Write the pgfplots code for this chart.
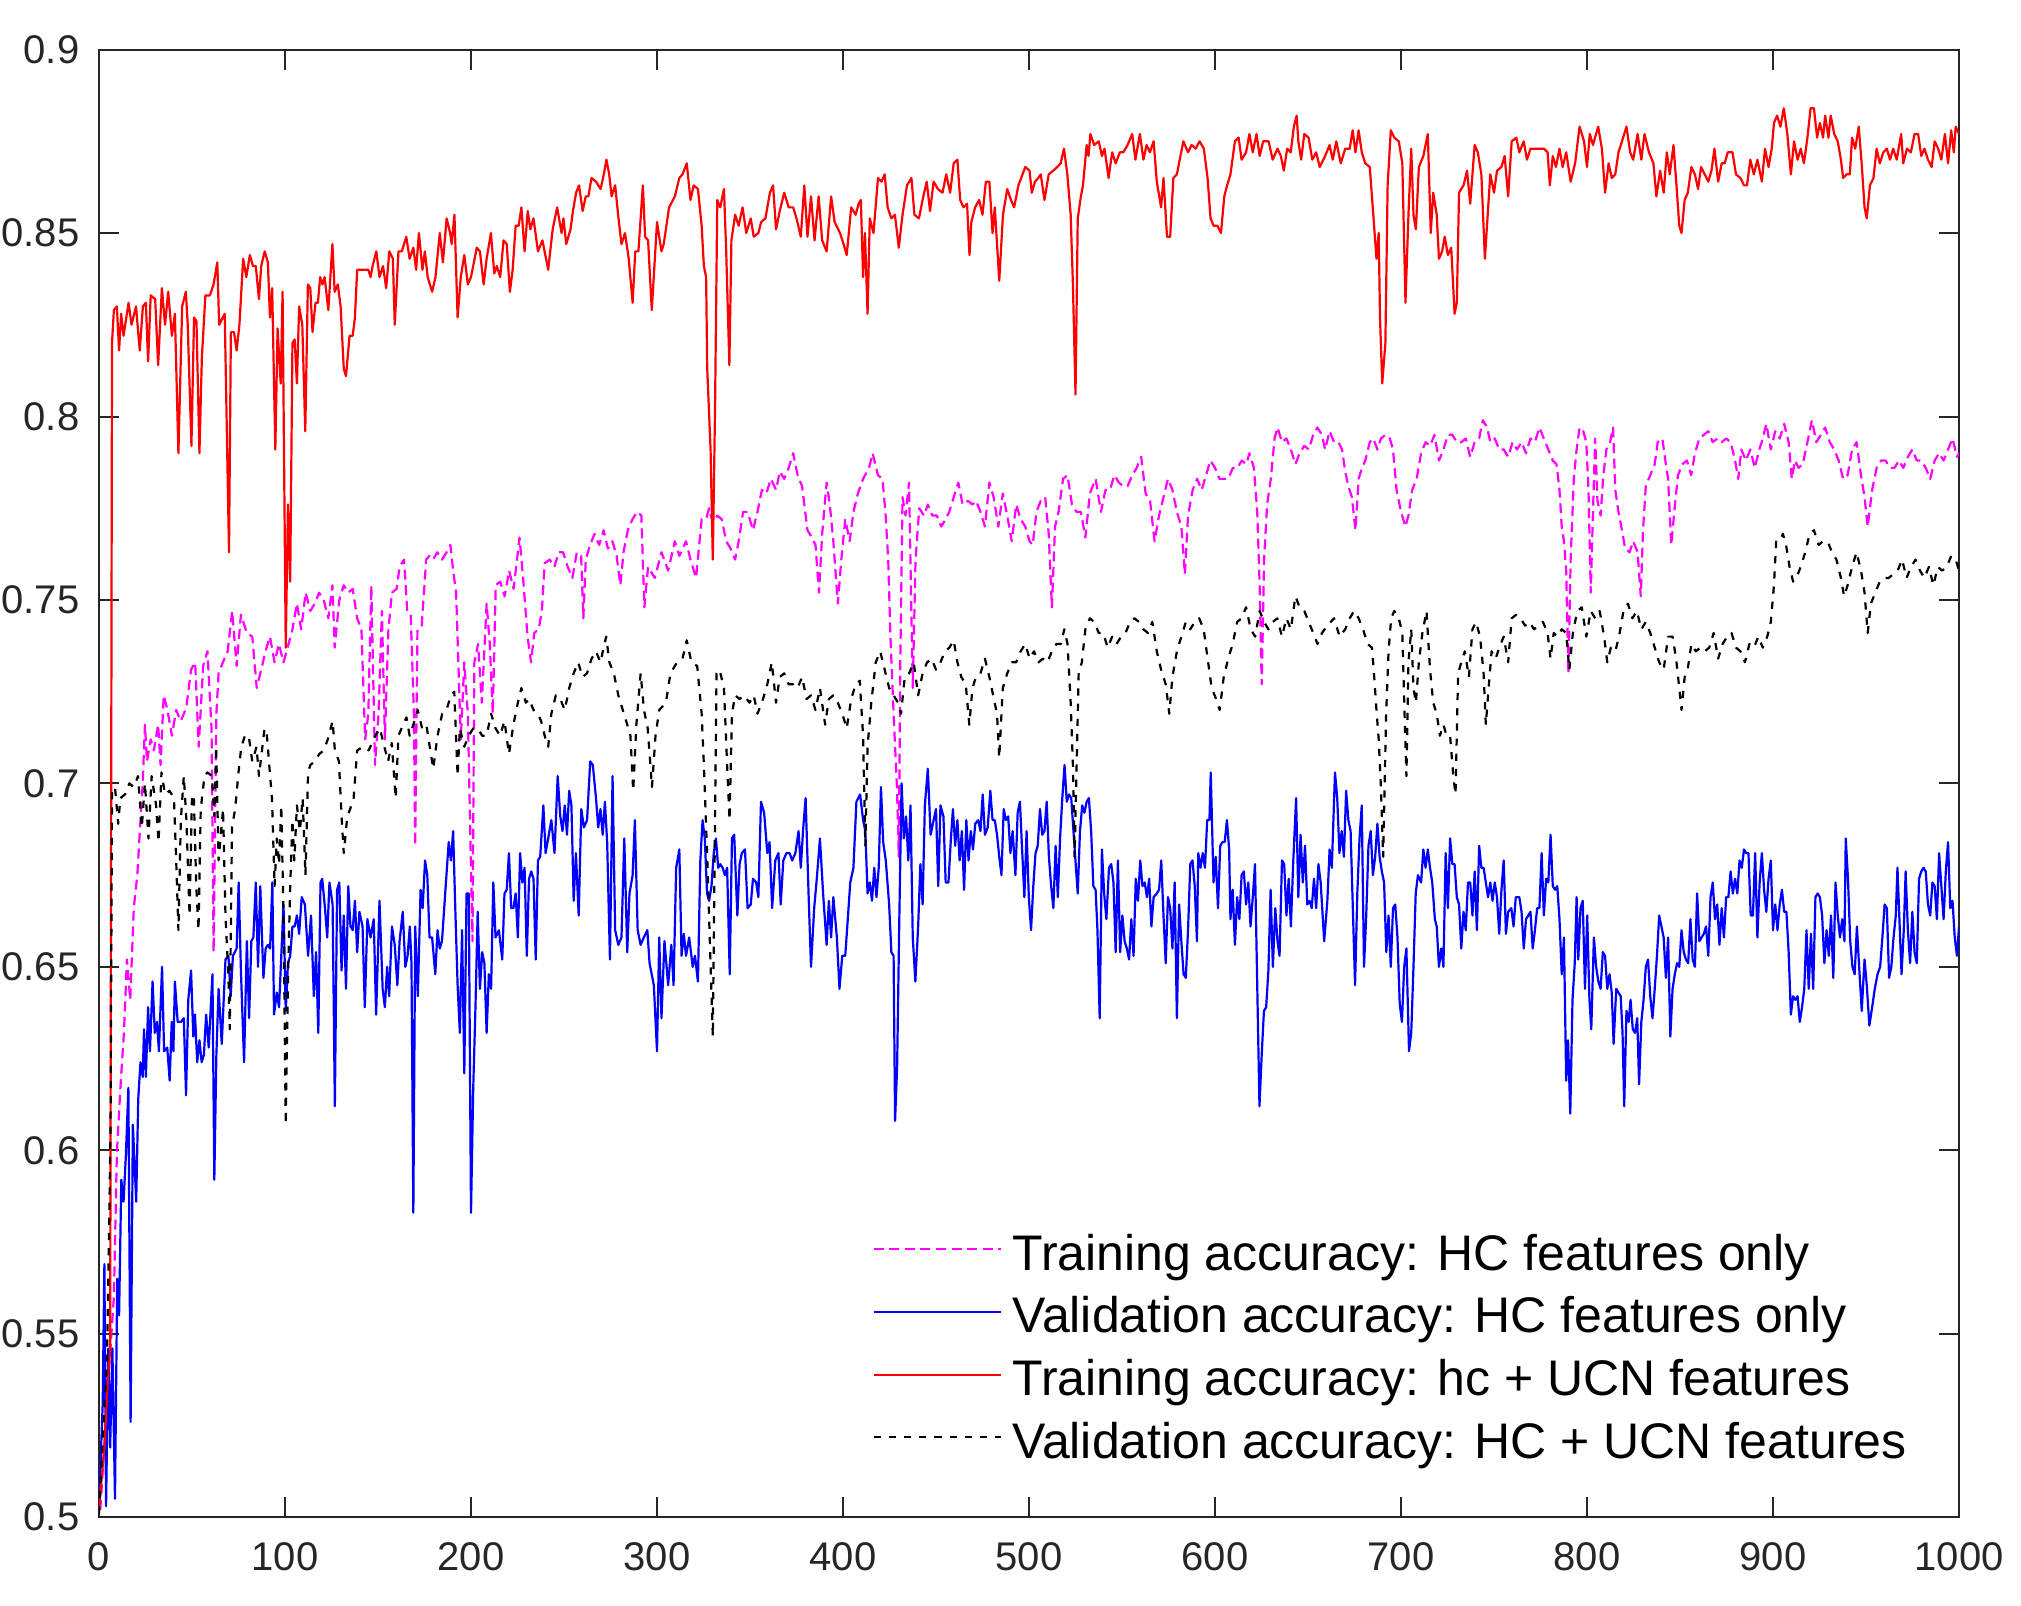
\documentclass[border=0pt]{standalone}
\usepackage{fontspec}
\setmainfont{Liberation Sans}
\usepackage{pgfplots}
\pgfplotsset{compat=1.18}
\definecolor{axgray}{HTML}{262626}
\definecolor{mag}{HTML}{FF00FF}
\definecolor{blu}{HTML}{0000FF}
\definecolor{rd}{HTML}{FF0000}
\begin{document}
\begin{tikzpicture}
\begin{axis}[
  scale only axis, width=465pt, height=366.9pt,
  xmin=0, xmax=1000, ymin=0.5, ymax=0.9,
  xtick={0,100,200,300,400,500,600,700,800,900,1000},
  xticklabels={0,100,200,300,400,500,600,700,800,900,1000},
  ytick={0.5,0.55,0.6,0.65,0.7,0.75,0.8,0.85,0.9},
  yticklabels={0.5,0.55,0.6,0.65,0.7,0.75,0.8,0.85,0.9},
  tick align=inside, tick pos=both, major tick length=5pt,
  axis line style={draw=axgray, line width=0.5pt},
  every tick/.style={draw=axgray, line width=0.5pt},
  tick label style={font=\fontsize{10}{12}\selectfont, text=axgray},
  yticklabel style={xshift=-1.4pt},
  xticklabel style={yshift=-2.8pt},
  clip=true,
  legend cell align=left,
  legend image code/.code={\draw[#1] (0pt,0pt) -- (31.8pt,0pt);},
  legend style={at={(0.4159,0.0402)}, anchor=south west, draw=none, fill=none,
    inner sep=0pt, outer sep=0pt, row sep=5.28pt, column sep=2.6pt,
    font=\fontsize{12.5}{15}\selectfont,
    nodes={inner sep=0pt, outer sep=0pt, text height=10.4pt, text depth=0pt, anchor=west}},
  every axis plot/.append style={line width=0.55pt, line join=round},
]
% Training accuracy: HC features only (magenta dashed)
\addplot[mag, dash pattern=on 2.5pt off 1.4pt] coordinates {
(0.7,0.502)(5.5,0.541)(8,0.560)(9.6,0.599)(11.5,0.617)(13.4,0.632)(15,0.652)(16.8,0.641)(18.7,0.666)(20.6,0.675)(22.3,0.690)(23.5,0.700)(24.7,0.716)(25.8,0.706)(27.8,0.712)(29.5,0.709)(31.8,0.716)(33.1,0.705)(34.8,0.724)(36.8,0.720)(39.2,0.713)(41.5,0.720)(43.9,0.717)(45.7,0.719)(47,0.721)(49.5,0.731)(51.7,0.733)(53.6,0.710)(56,0.732)(58.3,0.736)(60.5,0.715)(61.6,0.654)(63.1,0.719)(64.3,0.730)(66.6,0.733)(69.2,0.736)(71.6,0.747)(74,0.732)(76.3,0.746)(79.5,0.741)(82.4,0.740)(84.8,0.726)(87.2,0.731)(89.5,0.736)(91.9,0.740)(94.4,0.733)(96.7,0.738)(99.2,0.733)(101.4,0.737)(104,0.742)(106.4,0.749)(108.7,0.742)(111.1,0.752)(113.6,0.747)(116,0.749)(118.3,0.752)(120.8,0.750)(123.3,0.745)(125.5,0.754)(126.7,0.737)(129.2,0.750)(131.6,0.754)(134,0.752)(136.4,0.753)(138.8,0.745)(141.1,0.742)(143.1,0.712)(144.8,0.719)(146.4,0.754)(148.4,0.705)(150.3,0.719)(152.1,0.747)(153.7,0.712)(155.6,0.742)(157.5,0.752)(160,0.753)(161.6,0.759)(164,0.761)(165.7,0.747)(167.6,0.746)(169.3,0.719)(170,0.683)(171.2,0.742)(173.5,0.743)(175.9,0.761)(177.6,0.762)(179.6,0.761)(181.9,0.763)(184.4,0.761)(186.9,0.763)(188.9,0.765)(190.4,0.758)(192,0.752)(193.2,0.733)(194.5,0.712)(196.4,0.733)(198.3,0.719)(200.8,0.657)(201.8,0.733)(203.8,0.738)(205.8,0.722)(208.4,0.749)(210.1,0.738)(211.7,0.719)(213.3,0.754)(215.7,0.755)(218.1,0.751)(220.5,0.758)(222.9,0.753)(226.1,0.767)(228,0.756)(230.4,0.740)(232.3,0.733)(234,0.741)(236.4,0.742)(238.1,0.747)(239.6,0.760)(242.3,0.761)(244.8,0.759)(247.2,0.763)(249.5,0.763)(252,0.759)(254.5,0.756)(256.9,0.763)(259.2,0.762)(260.4,0.745)(261.7,0.761)(264,0.765)(266.4,0.768)(268.9,0.765)(271.3,0.769)(273.6,0.764)(276,0.766)(278.3,0.762)(280.3,0.754)(282,0.763)(284.3,0.769)(286.8,0.772)(289.3,0.774)(291.6,0.773)(293.2,0.748)(295.2,0.759)
(298.8,0.756)(302.4,0.763)(306,0.758)(309.6,0.766)(312,0.762)(315.6,0.766)(318,0.761)(321,0.756)(324,0.772)(326.4,0.772)(328,0.775)(330,0.771)(332.4,0.773)(334.8,0.772)(337.2,0.766)(339.6,0.764)(342,0.761)(343.9,0.766)(346.3,0.774)(348.7,0.774)(351.6,0.769)(354,0.774)(356.4,0.780)(358.8,0.779)(361.2,0.783)(364,0.780)(366,0.785)(368.4,0.783)(370.8,0.786)(373.2,0.790)(375.6,0.784)(378,0.781)(380.9,0.769)(383.3,0.767)(385.2,0.765)(387.1,0.752)(388.8,0.768)(391.2,0.782)(392.9,0.776)(394.8,0.766)(397.2,0.749)(399.1,0.761)(401.2,0.772)(403.6,0.766)(405.6,0.774)(408,0.779)(410.8,0.783)(414,0.786)(415.9,0.790)(418.8,0.784)(421.2,0.783)(422.8,0.774)(424.3,0.761)(425.5,0.740)(427.2,0.719)(429,0.699)(430,0.680)(430.8,0.733)(432,0.778)(433.6,0.773)(435.5,0.782)(437.5,0.726)(439,0.761)(441,0.775)(443.5,0.773)(445.6,0.776)(448,0.773)(450.4,0.773)(452.8,0.770)(455.2,0.772)(457.1,0.774)(459.5,0.778)(462,0.782)(464.3,0.776)(467.2,0.777)(469.6,0.776)(471.5,0.777)(473.9,0.774)(476.3,0.770)(478.7,0.782)(481,0.778)(483.5,0.770)(485.9,0.779)(488.3,0.773)(490.7,0.766)(493.1,0.776)(495.5,0.772)(498,0.770)(500.3,0.766)(502,0.765)(504,0.774)(506.3,0.777)(508.7,0.778)(510.6,0.768)(512.3,0.748)(514,0.770)(515.9,0.774)(518.3,0.783)(520.7,0.784)(523.1,0.776)(525.5,0.774)(527.9,0.774)(530.3,0.767)(532.7,0.779)(535.8,0.783)(538.7,0.774)(541.1,0.780)(543.5,0.780)(545.9,0.784)(548.3,0.782)(550.7,0.781)(553,0.781)(555.5,0.784)(557.9,0.786)(560.3,0.789)(562.7,0.779)(565.1,0.777)(567.5,0.766)(569.9,0.773)(572.3,0.778)(574.7,0.783)(577.1,0.780)(579.5,0.774)(581.9,0.770)(583.8,0.757)(585.5,0.773)(588,0.780)(590.4,0.783)(592.8,0.780)(595.2,0.784)(597.5,0.788)(600,0.786)(602.4,0.783)(604.8,0.783)(607.1,0.783)(609.6,0.786)(612,0.786)(614.4,0.788)(616.8,0.787)(618.5,0.790)(620.9,0.786)(622.7,0.774)(624,0.754)(625.1,0.727)(626.4,0.761)(628,0.776)(630,0.783)(632,0.794)(633.6,0.797)(636,0.793)(638.4,0.794)(640.8,0.791)(643.2,0.787)(645.5,0.790)(648,0.792)(650.4,0.791)(652.8,0.795)(655,0.797)
(657.5,0.795)(659.2,0.791)(661.6,0.796)(664,0.793)(666.4,0.793)(668.3,0.791)(670,0.785)(671.7,0.781)(673.6,0.778)(675.5,0.769)(677.2,0.783)(679,0.786)(680.8,0.788)(683.2,0.793)(685.1,0.794)(687.3,0.791)(689.2,0.794)(691.6,0.795)(694,0.794)(695.7,0.791)(697.6,0.780)(700,0.774)(702.4,0.770)(704,0.773)(706,0.780)(708.4,0.783)(710.8,0.790)(713.2,0.793)(715.6,0.792)(718,0.795)(720.4,0.788)(722.8,0.791)(725.2,0.795)(727.6,0.795)(730,0.793)(732.4,0.793)(734.8,0.794)(737.2,0.789)(739.6,0.793)(742,0.794)(744,0.799)(746.3,0.797)(748,0.793)(750.4,0.794)(752.8,0.791)(755.2,0.791)(757.6,0.789)(760,0.793)(762.4,0.791)(764.8,0.793)(767.2,0.790)(769.6,0.794)(772,0.793)(774.4,0.797)(776.8,0.794)(779.2,0.791)(781.6,0.788)(783.6,0.787)(785.2,0.780)(786.4,0.770)(787.6,0.766)(788.8,0.758)(790,0.730)(791.2,0.761)(792.9,0.783)(794.4,0.791)(796,0.797)(798,0.796)(799.6,0.793)(800.8,0.780)(802,0.752)(803.2,0.774)(804.4,0.794)(805.6,0.777)(807.3,0.773)(808.8,0.784)(810.4,0.791)(812.4,0.793)(814,0.797)(815.2,0.780)(816.9,0.774)(818.8,0.769)(820.5,0.764)(822.9,0.763)(824.8,0.766)(827.2,0.763)(828.9,0.751)(830.1,0.769)(831.6,0.781)(834,0.784)(836.4,0.787)(838,0.793)(840.5,0.794)(842.1,0.788)(843.6,0.783)(845.3,0.765)(846.9,0.774)(848.9,0.784)(851.3,0.787)(853.7,0.788)(856,0.784)(858,0.790)(860.4,0.794)(862.8,0.795)(865.2,0.796)(867.6,0.793)(870,0.794)(872.4,0.793)(874.8,0.794)(877.2,0.793)(879.6,0.788)(881.3,0.783)(883,0.791)(885.4,0.788)(887.8,0.791)(890.2,0.786)(892.6,0.791)(894.5,0.794)(896.4,0.798)(898.8,0.791)(901.2,0.796)(903.6,0.794)(906,0.798)(908.4,0.793)(910.1,0.783)(911.8,0.788)(913.7,0.786)(916,0.787)(918.5,0.793)(920.9,0.799)(923.3,0.793)(925.7,0.795)(928,0.797)(930.5,0.793)(932.9,0.791)(935.3,0.788)(937.7,0.783)(940.1,0.784)(942.5,0.791)(944.9,0.793)(947.3,0.784)(949.2,0.778)(950.9,0.770)(953.3,0.780)(955.7,0.786)(958.1,0.788)(960.5,0.788)(962.9,0.786)(965.3,0.786)(967.7,0.788)(970,0.786)(972.5,0.789)(974.9,0.791)(977.3,0.788)(979.7,0.788)(982.1,0.786)(984.5,0.783)(986.9,0.788)(989.3,0.790)(991.7,0.788)(994.1,0.791)(996.5,0.794)(998.9,0.789)(1000,0.790)
};
\addlegendentry{Training accuracy: HC features only}
% Validation accuracy: HC features only (blue)
\addplot[blu] coordinates {
(0,0.503)(2,0.531)(2.9,0.569)(3.8,0.503)(5,0.546)(6,0.519)(7.2,0.546)(8.6,0.505)(9.8,0.565)(10.8,0.555)(12,0.592)(13.2,0.586)(14.4,0.598)(15.8,0.617)(17,0.526)(18.2,0.607)(20,0.586)(21.1,0.614)(22.3,0.624)(23.5,0.620)(24.2,0.633)(25.2,0.620)(26.4,0.639)(27.4,0.627)(28.8,0.646)(30,0.632)(31.2,0.635)(32.2,0.627)(33.9,0.650)(35,0.627)(36.7,0.628)(38,0.619)(39.1,0.635)(40,0.627)(40.8,0.646)(42.3,0.635)(44,0.635)(45.6,0.636)(46.8,0.615)(48,0.641)(49.5,0.649)(50.7,0.631)(51.6,0.637)(52.8,0.624)(54,0.630)(55.2,0.624)(56.4,0.626)(57.6,0.637)(59,0.628)(61,0.648)(62,0.592)(63.1,0.626)(64.3,0.644)(66,0.629)(68,0.652)(69.6,0.653)(70.8,0.642)(72,0.653)(74,0.655)(75.1,0.673)(76.3,0.649)(78,0.624)(79.5,0.657)(80.7,0.636)(81.9,0.657)(83,0.658)(84.3,0.673)(85.5,0.650)(86.7,0.672)(88.4,0.647)(89.6,0.655)(90.8,0.656)(92,0.655)(93.2,0.673)(94.1,0.637)(95.6,0.643)(96.8,0.639)(98,0.653)(99.2,0.667)(100.4,0.638)(101.6,0.651)(102.8,0.653)(104,0.661)(105.2,0.661)(106.4,0.664)(107.6,0.659)(109,0.669)(110.7,0.667)(112.4,0.653)(114,0.664)(115.5,0.642)(116.7,0.654)(117.9,0.632)(119.1,0.673)(120,0.674)(121.5,0.666)(122.7,0.658)(123.9,0.673)(125.6,0.667)(126.8,0.612)(128,0.671)(129.2,0.673)(130.4,0.649)(131.6,0.664)(132.8,0.644)(134,0.672)(135.2,0.661)(136.4,0.660)(137.6,0.668)(138.8,0.654)(140,0.665)(141.7,0.661)(142.9,0.639)(144.3,0.663)(146,0.658)(147.7,0.663)(149,0.637)(150.8,0.668)(152.5,0.644)(153.7,0.639)(154.9,0.650)(156,0.642)(157.5,0.661)(159,0.656)(160.4,0.645)(161.6,0.657)(163.3,0.665)(164.7,0.650)(165.9,0.653)(167.1,0.661)(168,0.651)(169,0.583)(170,0.661)(171.4,0.642)(172.9,0.671)(174,0.666)(175.3,0.679)(176.5,0.675)(177.7,0.658)(179.1,0.658)(180.8,0.648)(182,0.660)(183.2,0.655)(184.4,0.657)(185.6,0.666)(186.8,0.675)(188,0.684)(189.2,0.679)(190.4,0.687)(191.6,0.665)(192.8,0.645)(194,0.632)(195.2,0.660)(196.4,0.621)(197.6,0.670)(198.8,0.670)(200,0.583)(201.2,0.617)(202.4,0.639)(203.6,0.665)(204.8,0.644)(206,0.654)(207.2,0.651)(208.4,0.632)(209.6,0.648)(210.8,0.644)(212,0.673)(213.2,0.658)(215,0.660)(216.8,0.652)(218,0.670)(219.2,0.671)(220.4,0.681)(221.6,0.666)(222.8,0.666)(224,0.670)(225.2,0.658)(226.4,0.681)(227.6,0.673)(228.8,0.677)(230,0.653)(231.2,0.674)(232.4,0.676)(233.6,0.674)(234.8,0.652)(236,0.679)(237.2,0.680)(238.9,0.694)(240.1,0.681)(241.5,0.685)(243.2,0.690)(244.9,0.681)(246.6,0.702)(248,0.691)(249.2,0.687)(250.4,0.694)(251.6,0.686)(252.8,0.698)(254,0.694)(255.2,0.668)(256.4,0.681)(257.9,0.664)(259.3,0.693)(260.7,0.688)(262.4,0.690)(264.1,0.706)(265.5,0.705)(267.2,0.696)(268.4,0.688)(269.6,0.693)(270.8,0.686)(272,0.695)(273.2,0.684)(274.7,0.652)(276.1,0.702)(277.5,0.660)(279.2,0.656)(280.9,0.658)(282.4,0.685)(284,0.654)(285.2,0.670)(286.9,0.675)(288.1,0.690)(289.6,0.660)(291.2,0.656)(292.9,0.658)(294.8,0.660)(296,0.651)
(298.3,0.645)(300,0.627)(301.2,0.658)(302.4,0.636)(304,0.657)(306,0.645)(307.7,0.656)(308.9,0.645)(310.3,0.677)(312,0.682)(313.2,0.653)(314.4,0.659)(315.6,0.653)(317.3,0.658)(319.2,0.650)(320.4,0.653)(322,0.646)(323.3,0.679)(324.5,0.690)(325.7,0.685)(326.9,0.670)(328,0.668)(329.3,0.672)(330.5,0.681)(331.7,0.685)(332.9,0.677)(334,0.678)(335.3,0.677)(336.5,0.675)(337.7,0.677)(339.1,0.648)(340.3,0.685)(341.5,0.686)(343.2,0.664)(344.4,0.678)(345.6,0.681)(347.3,0.682)(348.7,0.666)(350.4,0.667)(351.6,0.674)(353.3,0.673)(354.5,0.669)(355.9,0.695)(357.6,0.692)(359.3,0.681)(360.5,0.684)(361.9,0.666)(363.6,0.679)(365.3,0.681)(366.5,0.667)(367.9,0.679)(369.6,0.681)(371.3,0.681)(372.7,0.679)(374.4,0.681)(376.1,0.687)(377.3,0.677)(378.5,0.687)(379.9,0.696)(381.6,0.668)(382.8,0.650)(384.5,0.666)(385.9,0.674)(387.6,0.685)(389.3,0.670)(391.2,0.656)(392.4,0.668)(393.6,0.658)(394.8,0.669)(396.7,0.658)(398.1,0.644)(399.6,0.653)(401.2,0.653)(402.7,0.664)(403.9,0.673)(405.6,0.677)(407.2,0.695)(409.2,0.697)(410.8,0.690)(412,0.687)(413.2,0.670)(414.4,0.673)(415.6,0.668)(416.8,0.677)(418,0.669)(419.2,0.677)(420.4,0.699)(421.6,0.684)(423,0.679)(424.8,0.667)(426,0.654)(427.2,0.653)(428,0.608)(429.1,0.623)(430.3,0.664)(431.5,0.700)(432.7,0.685)(433.9,0.691)(435.1,0.679)(436.3,0.694)(437.5,0.658)(438.9,0.646)(440.4,0.661)(441.6,0.678)(442.8,0.667)(444,0.694)(445.6,0.704)(447.1,0.686)(448.3,0.689)(450,0.693)(451.2,0.672)(452.4,0.694)(454,0.691)(455.2,0.673)(456.7,0.673)(457.9,0.684)(459.1,0.693)(460.3,0.683)(461.5,0.690)(462.7,0.679)(463.9,0.687)(465.1,0.671)(466.3,0.690)(467.5,0.679)(468.7,0.687)(469.9,0.682)(471.1,0.689)(472.7,0.690)(473.9,0.687)(475.1,0.697)(476.3,0.686)(477.8,0.688)(479.2,0.698)(480.4,0.690)(481.6,0.690)(482.8,0.686)(484,0.680)(485.2,0.675)(486.4,0.693)(487.6,0.690)(488.8,0.691)(490,0.681)(491.2,0.687)(492.7,0.675)(493.9,0.692)(495.1,0.695)(496.2,0.683)(497.5,0.669)(498.7,0.687)(499.9,0.669)(501.1,0.660)(502.3,0.672)(503.5,0.681)(504.7,0.683)(505.9,0.693)(507.1,0.686)(508.3,0.687)(509.5,0.695)(510.7,0.680)(511.9,0.672)(513.1,0.666)(514.3,0.683)(515.5,0.669)(516.7,0.685)(517.9,0.696)(519.1,0.705)(520.3,0.695)(521.5,0.697)(522.7,0.696)(523.9,0.687)(525.1,0.678)(526.2,0.670)(527.4,0.687)(528.6,0.694)(529.8,0.692)(531,0.695)(532.2,0.696)(533.4,0.687)(534.6,0.672)(535.8,0.671)(536.8,0.660)(538,0.636)(539.2,0.682)(540.4,0.670)(541.6,0.663)(543,0.677)(544.2,0.678)(545.4,0.673)(546.6,0.654)(547.8,0.679)(549,0.654)(550.2,0.664)(551.4,0.657)(552.6,0.655)(553.8,0.652)(555,0.663)(556.2,0.653)(557.4,0.674)(558.6,0.668)(559.8,0.679)(561,0.672)(562.2,0.673)(563.4,0.669)(564.6,0.674)(565.8,0.661)(567,0.669)(568.7,0.670)(569.9,0.671)(571.1,0.679)(572.3,0.664)(573.5,0.651)(574.7,0.669)(575.9,0.666)(577.1,0.655)(578.3,0.673)(579.5,0.636)(580.7,0.667)(581.9,0.657)(583.1,0.648)(584.3,0.647)(585.5,0.660)(586.7,0.678)(587.9,0.679)(589.1,0.672)(590.3,0.657)(591,0.681)(592.2,0.677)(593.4,0.681)(594.6,0.677)(595.8,0.690)(597,0.690)(597.7,0.703)(599.2,0.673)(600.4,0.680)(601.6,0.666)(602.8,0.683)(604,0.684)(605.2,0.684)(606.4,0.690)(607.6,0.682)(608.3,0.663)(609.5,0.671)(610.7,0.656)(611.9,0.669)(613.1,0.663)(614.3,0.675)(615.5,0.676)(616.7,0.667)(617.9,0.673)(619.1,0.661)(620.3,0.669)(621.5,0.678)(622.7,0.645)(623.9,0.612)(625.1,0.626)(626.3,0.638)(627.5,0.639)(628.7,0.649)(629.9,0.671)(631.1,0.650)(632.4,0.666)(633.6,0.657)(634.7,0.653)(636,0.679)(637.2,0.678)(638.4,0.664)(639.6,0.674)(640.8,0.661)(642,0.678)(643.6,0.696)(644.8,0.669)(646,0.686)(647.2,0.673)(648.4,0.683)(649.6,0.667)(650.8,0.668)(652,0.666)(653.2,0.674)(654.4,0.666)(655.6,0.678)
(656.8,0.673)(658.7,0.657)(660.4,0.668)(661.6,0.682)(662.8,0.677)(664.5,0.703)(665.7,0.696)(666.9,0.681)(668.1,0.687)(669.3,0.680)(670.5,0.698)(671.7,0.690)(672.9,0.687)(674.1,0.666)(675.3,0.645)(676.5,0.670)(677.7,0.685)(678.9,0.694)(680.1,0.650)(681.3,0.664)(682.5,0.683)(683.7,0.687)(684.9,0.675)(686.1,0.680)(687.3,0.689)(688.5,0.680)(689.7,0.676)(690.9,0.673)(692.1,0.654)(693.3,0.664)(694.5,0.650)(695.7,0.666)(696.9,0.667)(698.1,0.658)(699.3,0.640)(700.5,0.635)(701.7,0.650)(702.9,0.655)(704.3,0.627)(705.5,0.632)(706.7,0.650)(707.9,0.670)(709.1,0.675)(710.8,0.673)(712,0.682)(713.2,0.677)(714.4,0.682)(715.6,0.677)(716.8,0.673)(718.2,0.663)(719.2,0.661)(720.4,0.650)(721.6,0.655)(722.8,0.650)(724,0.681)(725.2,0.666)(726.4,0.685)(727.6,0.678)(728.8,0.678)(730,0.669)(731.2,0.667)(732.4,0.655)(733.6,0.665)(734.8,0.660)(736,0.673)(737.2,0.673)(738.4,0.664)(739.6,0.676)(740.8,0.660)(742,0.683)(743.2,0.677)(744.4,0.677)(745.6,0.673)(746.8,0.669)(748,0.673)(749.2,0.668)(750.4,0.673)(751.6,0.669)(752.8,0.659)(754,0.671)(755.2,0.679)(756.4,0.659)(757.6,0.665)(759.3,0.666)(760.5,0.661)(761.7,0.669)(763.6,0.669)(764.8,0.665)(766,0.655)(767.2,0.663)(768.4,0.664)(769.6,0.665)(770.8,0.655)(772,0.660)(773.2,0.666)(774.4,0.666)(775.6,0.681)(776.8,0.664)(778,0.674)(779.2,0.673)(780.4,0.686)(781.6,0.672)(782.8,0.671)(784,0.672)(785.2,0.663)(786.4,0.648)(787.6,0.658)(788.8,0.619)(789.8,0.630)(791,0.610)(792.2,0.641)(793.4,0.651)(794.4,0.669)(795.3,0.652)(796.5,0.666)(797.7,0.668)(798.9,0.644)(800.1,0.664)(801.3,0.641)(802.3,0.633)(803.7,0.658)(804.9,0.650)(806.1,0.646)(807.3,0.644)(808.5,0.654)(809.7,0.653)(810.9,0.644)(812.1,0.648)(813.3,0.643)(814.3,0.629)(815.7,0.644)(816.9,0.643)(818.1,0.642)(819.1,0.632)(820,0.612)(821.2,0.638)(822.4,0.635)(823.4,0.641)(824.6,0.633)(825.8,0.632)(827,0.636)(828,0.618)(829.2,0.635)(830.4,0.641)(831.6,0.650)(832.8,0.652)(834,0.642)(835.2,0.636)(836.4,0.644)(837.6,0.653)(838.8,0.664)(840,0.661)(841.2,0.658)(842.4,0.647)(843.6,0.658)(844.8,0.631)(846,0.644)(847.2,0.648)(848.4,0.651)(849.6,0.650)(850.8,0.660)(852,0.654)(853.2,0.652)(854.4,0.651)(855.6,0.663)(856.8,0.652)(858,0.650)(859.2,0.670)(860.4,0.657)(861.6,0.658)(862.8,0.659)(864,0.661)(865.2,0.653)(866.4,0.669)(867.6,0.673)(868.8,0.663)(870,0.667)(871.2,0.656)(872.4,0.666)(873.6,0.658)(874.8,0.669)(876,0.669)(877.2,0.676)(878.4,0.670)(879.6,0.674)(880.8,0.670)(882,0.679)(883.2,0.677)(884.4,0.682)(885.6,0.681)(886.8,0.681)(888,0.664)(889.2,0.664)(890.4,0.681)(891.6,0.658)(892.8,0.673)(894,0.681)(895.2,0.671)(896.4,0.665)(897.6,0.674)(898.8,0.679)(900,0.660)(901.2,0.667)(902.4,0.660)(903.6,0.667)(904.8,0.671)(906,0.665)(907.2,0.665)(908.4,0.654)(909.6,0.637)(910.8,0.642)(912,0.641)(913.2,0.642)(914.4,0.635)(915.6,0.639)(916.8,0.644)(918,0.660)(919.2,0.644)(920.4,0.659)(921.6,0.644)(922.8,0.669)(924,0.670)(925.2,0.669)(926.4,0.664)(927.6,0.651)(928.8,0.660)(930,0.653)(931.2,0.664)(932.4,0.647)(933.6,0.673)(934.8,0.664)(936,0.658)(937.2,0.663)(938.4,0.657)(939.1,0.685)(940.3,0.674)(941.5,0.657)(942.7,0.650)(943.9,0.648)(945.1,0.661)(946.3,0.650)(947.7,0.638)(949.2,0.652)(950.4,0.645)(951.8,0.634)(953.3,0.639)(954.7,0.644)(956.2,0.648)(957.6,0.650)(958.8,0.658)(960,0.667)(961.2,0.666)(962.4,0.647)(963.6,0.650)(964.8,0.658)(966,0.664)(966.9,0.677)(968.1,0.661)(969.1,0.648)(970.3,0.660)(971.3,0.676)(972.5,0.660)(973.7,0.651)(974.9,0.665)(976.1,0.654)(977.3,0.651)(978.5,0.674)(979.7,0.676)(980.9,0.677)(982.1,0.676)(983.3,0.667)(984.5,0.664)(985.7,0.673)(986.9,0.672)(988.1,0.663)(989.3,0.681)(990.5,0.672)(991.7,0.663)(992.9,0.676)(994.1,0.684)(995.3,0.666)(996.5,0.668)(997.7,0.658)(998.9,0.653)(1000,0.661)
};
\addlegendentry{Validation accuracy: HC features only}
% Training accuracy: hc + UCN features (red)
\addplot[rd] coordinates {
(0,0.502)(3,0.52)(5,0.54)(6,0.545)(7,0.820)(8,0.829)(9.6,0.830)(10.8,0.818)(11.9,0.828)(13.2,0.822)(15.9,0.831)(17.5,0.825)(19.9,0.830)(21.9,0.818)(23.6,0.830)(25.2,0.831)(26.4,0.815)(27.8,0.833)(30.2,0.832)(31.8,0.814)(33.8,0.835)(35.5,0.825)(37.2,0.834)(39.2,0.822)(40.8,0.828)(42.7,0.790)(44.7,0.830)(46.7,0.834)(47.7,0.825)(49.7,0.792)(51.1,0.827)(52.4,0.826)(54,0.790)(55.3,0.816)(57.2,0.833)(59.6,0.833)(61.6,0.836)(63.6,0.842)(64.6,0.825)(67.6,0.828)(69.9,0.763)(70.9,0.823)(72.6,0.823)(74,0.818)(75.5,0.825)(77.5,0.843)(79.2,0.838)(81.1,0.844)(82.8,0.841)(84.3,0.841)(86,0.832)(87.2,0.841)(89.1,0.845)(90.8,0.842)(91.9,0.827)(93.1,0.835)(94.8,0.791)(96,0.824)(97.7,0.809)(98.7,0.834)(100.4,0.737)(101.6,0.776)(102.8,0.755)(104,0.820)(105.2,0.821)(106.4,0.809)(107.6,0.830)(109.3,0.825)(110.9,0.796)(112.3,0.836)(113.6,0.835)(114.8,0.823)(116.4,0.831)(117.7,0.831)(118.9,0.838)(120.1,0.836)(121.3,0.838)(123.3,0.829)(125.5,0.847)(126.7,0.834)(128.4,0.836)(129.9,0.830)(131.6,0.813)(132.8,0.811)(134.7,0.822)(136.4,0.822)(137.6,0.827)(138.8,0.840)(142.3,0.840)(144.8,0.840)(146,0.838)(147.1,0.841)(149.1,0.845)(150.8,0.838)(152.7,0.841)(154.4,0.835)(156.1,0.845)(158,0.843)(159,0.825)(161,0.845)(162.8,0.845)(165.2,0.849)(167,0.843)(169,0.846)(170.5,0.840)(172,0.850)(173.9,0.840)(175.2,0.845)(176.7,0.838)(179.1,0.834)(180.9,0.838)(183.2,0.850)(184.9,0.842)(186.9,0.854)(188.8,0.850)(189.6,0.847)(191.1,0.855)(192.8,0.827)(194.5,0.838)(196.4,0.844)(198.3,0.836)(200,0.838)(203.1,0.846)(204.8,0.845)(206.8,0.836)(208.4,0.843)(210.7,0.850)(212.5,0.839)(213.9,0.841)(215.7,0.838)(217.5,0.848)(219.2,0.847)(220.9,0.834)(222.4,0.840)(224,0.852)(225.6,0.852)(227.1,0.857)(228.8,0.845)(230.5,0.856)(231.9,0.851)(233.6,0.854)(236,0.845)(238.4,0.848)(241.5,0.840)(243.9,0.851)(246.3,0.857)(248.7,0.850)(249.7,0.854)(251.2,0.847)(253.5,0.851)(254.8,0.856)(256.5,0.861)(258.1,0.863)(260,0.856)(261.7,0.860)(263.1,0.860)(264.8,0.865)(267.2,0.864)(269.7,0.862)(271.4,0.866)(272.8,0.870)(274.3,0.866)(275.6,0.860)(277.5,0.863)(279.3,0.854)(280.9,0.847)(282.8,0.850)(284.8,0.843)(286.9,0.831)(288.3,0.845)(290,0.845)(292.4,0.863)(293.6,0.849)(295.2,0.848)(297.2,0.829)
(300,0.853)(302.4,0.845)(303.6,0.847)(306.5,0.857)(309.6,0.860)(312,0.865)(313.7,0.866)(316,0.869)(318,0.859)(319.7,0.863)(322,0.862)(324,0.852)(325.2,0.841)(326.4,0.838)(327,0.813)(328.8,0.791)(330,0.761)(331.2,0.802)(332.4,0.859)(334,0.857)(336,0.862)(337.2,0.845)(338.9,0.814)(340,0.848)(342,0.855)(343.9,0.852)(346,0.857)(348,0.850)(350.4,0.854)(352,0.849)(354.5,0.850)(356,0.853)(358.3,0.854)(360.7,0.861)(362.4,0.863)(364,0.851)(366,0.856)(368.4,0.861)(370.8,0.857)(373.2,0.857)(375,0.854)(377.3,0.849)(379.2,0.863)(380.9,0.849)(382.8,0.860)(384.7,0.848)(386.9,0.860)(388.8,0.848)(391.2,0.845)(393.6,0.860)(395.5,0.853)(398.4,0.850)(400.3,0.847)(402,0.844)(404.4,0.857)(406.8,0.855)(408.4,0.858)(409.6,0.859)(410.8,0.838)(411.8,0.850)(413.2,0.828)(414.4,0.854)(416.4,0.850)(418.8,0.865)(420.7,0.864)(422.4,0.866)(424,0.857)(426,0.854)(427.9,0.855)(430,0.846)(432,0.855)(434.4,0.863)(436.8,0.865)(438.4,0.855)(440.8,0.854)(443.2,0.860)(445,0.864)(446.8,0.856)(448.7,0.864)(451,0.862)(453.5,0.861)(455.5,0.866)(457.6,0.861)(459.5,0.869)(461.5,0.870)(463,0.859)(464.8,0.857)(466.7,0.858)(468,0.844)(469,0.853)(471,0.857)(473.2,0.859)(475,0.855)(476.8,0.864)(478.7,0.864)(480.4,0.850)(481.6,0.857)(484,0.837)(486,0.855)(488.3,0.862)(490.3,0.859)(492,0.857)(494.3,0.863)(498,0.868)(500.3,0.867)(501.5,0.861)(503.2,0.864)(505,0.865)(506.3,0.866)(508.3,0.859)(510.6,0.866)(513,0.867)(515.2,0.868)(517,0.869)(518.8,0.873)(520.6,0.866)(522.4,0.855)(523.6,0.836)(525,0.806)(526.2,0.854)(527.9,0.860)(529,0.863)(531,0.874)(532,0.871)(533,0.877)(535,0.874)(537.5,0.875)(539.2,0.871)(540.6,0.873)(542.8,0.865)(544.7,0.872)(546.6,0.869)(548.8,0.872)(550.7,0.872)(553,0.874)(555.5,0.877)(557.2,0.870)(559.6,0.877)(561.5,0.870)(563.2,0.874)(565,0.872)(567,0.875)(568.7,0.864)(571,0.857)(572.3,0.865)(574.2,0.849)(575.9,0.849)(577.6,0.865)(579.5,0.866)(581.4,0.871)(583,0.875)(585.5,0.872)(587.4,0.874)(589.6,0.873)(591.7,0.875)(594,0.873)(596,0.865)(597.6,0.854)(599.3,0.852)(601.3,0.852)(603.2,0.850)(605,0.860)(606.5,0.863)(608.3,0.866)(610.7,0.875)(612.7,0.876)(614.3,0.870)(616.7,0.872)(618.5,0.877)(620.3,0.872)(622.3,0.877)(624,0.871)(625.9,0.875)(628.8,0.875)(631,0.870)(633.6,0.873)(635.4,0.871)(637,0.867)(638.8,0.873)(640.7,0.872)(642.4,0.879)(643.9,0.882)(644.8,0.875)(646.3,0.870)(648,0.877)(650.3,0.876)(652.3,0.870)(654.4,0.872)(656.3,0.868)
(659.2,0.871)(661.6,0.874)(663.3,0.870)(665.2,0.875)(667.6,0.869)(670,0.873)(672.4,0.873)(674,0.878)(675.5,0.872)(677.2,0.878)(678.9,0.872)(680.8,0.869)(683.2,0.868)(685.1,0.855)(686.8,0.843)(688,0.850)(688.7,0.827)(689.9,0.809)(691.6,0.820)(692.8,0.863)(694.5,0.878)(696.4,0.876)(698.8,0.875)(700.7,0.869)(702.4,0.831)(704,0.855)(705.5,0.873)(706.7,0.855)(708,0.851)(709.6,0.868)(712,0.871)(714.4,0.877)(716,0.850)(717.3,0.861)(719.2,0.855)(720.4,0.843)(722.1,0.845)(723.5,0.849)(725.2,0.844)(727,0.846)(728.8,0.828)(730,0.831)(731.2,0.861)(733.6,0.863)(735.5,0.867)(737.2,0.858)(739.6,0.874)(741.3,0.872)(743.2,0.866)(745.1,0.843)(746.1,0.851)(748,0.866)(750,0.861)(751.6,0.867)(754,0.868)(755.7,0.871)(757.6,0.860)(759.5,0.875)(762,0.876)(763.6,0.872)(766,0.875)(767.7,0.870)(769.6,0.873)(772,0.873)(774.4,0.873)(776.8,0.873)(778.8,0.872)(780,0.863)(781.6,0.871)(783.3,0.868)(785.2,0.873)(786.9,0.868)(788.8,0.872)(791.2,0.864)(793.6,0.869)(796,0.879)(798.4,0.875)(800,0.868)(801.5,0.877)(803.2,0.874)(806,0.879)(808,0.873)(809.7,0.861)(811.6,0.869)(813.3,0.865)(815.2,0.866)(816.9,0.872)(818.8,0.875)(821.2,0.879)(823.2,0.872)(824.8,0.870)(827.2,0.877)(829.2,0.870)(830.9,0.877)(833.3,0.872)(835.7,0.869)(837.3,0.860)(839.3,0.867)(841.2,0.861)(842.9,0.872)(844.5,0.866)(846.5,0.874)(848.1,0.863)(849.6,0.852)(850.8,0.850)(852.5,0.859)(854.2,0.861)(856.1,0.868)(858,0.866)(859.7,0.862)(861.3,0.868)(863.3,0.866)(865.2,0.864)(866.9,0.867)(868.5,0.873)(870.5,0.864)(872.4,0.869)(874,0.869)(875.7,0.872)(878.2,0.872)(880.1,0.866)(882.5,0.865)(884.4,0.863)(886,0.863)(887.8,0.870)(889.7,0.866)(891.6,0.870)(894,0.864)(895.7,0.873)(897.6,0.868)(899.3,0.873)(900.5,0.880)(902.2,0.882)(904,0.879)(905.8,0.884)(907.7,0.877)(909.6,0.866)(911.3,0.875)(913.2,0.870)(914.9,0.873)(916.6,0.869)(918.5,0.876)(920.2,0.884)(922,0.884)(923.7,0.876)(925.2,0.880)(926.9,0.876)(928,0.882)(929.8,0.876)(931,0.882)(932.9,0.877)(934.8,0.875)(936.5,0.870)(937.7,0.865)(939.6,0.866)(941.3,0.866)(942.5,0.876)(944.2,0.873)(946.1,0.879)(947.8,0.868)(949.2,0.857)(950.4,0.854)(952.1,0.863)(954,0.865)(955.7,0.873)(957.4,0.869)(959.3,0.872)(961.2,0.873)(962.9,0.870)(964.6,0.873)(966.5,0.870)(968.9,0.877)(970,0.869)(972,0.873)(974.1,0.872)(976.1,0.877)(978,0.877)(979.7,0.871)(981.4,0.873)(983.3,0.870)(985.3,0.868)(986.9,0.875)(988.8,0.873)(990.5,0.870)(992.4,0.877)(994.1,0.869)(995.8,0.878)(997.2,0.872)(998.2,0.879)(1000,0.877)
};
\addlegendentry{Training accuracy: hc + UCN features}
% Validation accuracy: HC + UCN features (black dashed)
\addplot[black, dash pattern=on 1.8pt off 2pt] coordinates {
(0,0.501)(3,0.531)(4.3,0.542)(6.2,0.605)(7,0.698)(8.6,0.699)(10.3,0.689)(11.5,0.696)(14,0.697)(16.3,0.700)(18.7,0.699)(21,0.702)(23,0.688)(24.7,0.700)(26.6,0.685)(28.3,0.702)(30.7,0.694)(32,0.684)(33.6,0.703)(35.5,0.697)(37.9,0.698)(40.3,0.696)(41.5,0.679)(42.7,0.660)(44,0.690)(45.6,0.702)(47,0.690)(48.7,0.664)(50,0.697)(51,0.696)(52.3,0.672)(53.5,0.660)(54.7,0.693)(56.7,0.702)(58.3,0.703)(60.7,0.702)(62,0.691)(63,0.710)(64.3,0.679)(66.7,0.693)(68,0.664)(69.6,0.647)(70.3,0.633)(71.5,0.688)(73.2,0.693)(75,0.703)(76.5,0.710)(78.5,0.713)(80.5,0.713)(82.4,0.706)(84.7,0.710)(86,0.702)(89,0.715)(90.3,0.713)(92,0.702)(93,0.696)(94.4,0.672)(95.6,0.685)(96.8,0.678)(98,0.694)(99.2,0.664)(100.4,0.607)(101.6,0.647)(102.8,0.672)(104,0.690)(105,0.679)(106.4,0.694)(108,0.687)(109.5,0.696)(111,0.675)(112.4,0.703)(113.6,0.705)(116,0.706)(118.4,0.708)(120.8,0.709)(123,0.712)(125.6,0.717)(126.8,0.709)(129,0.706)(130.4,0.691)(131.6,0.681)(133.5,0.691)(135,0.693)(136.9,0.696)(138.8,0.709)(142,0.710)(145,0.709)(148.5,0.713)(151,0.715)(153.4,0.710)(155.4,0.706)(157.4,0.711)(159.5,0.696)(161,0.713)(163.5,0.716)(165.3,0.718)(167,0.713)(169,0.716)(171.4,0.720)(173.7,0.715)(176,0.716)(177.8,0.710)(179.7,0.704)(182,0.713)(184.5,0.719)(186.8,0.720)(189.2,0.724)(191,0.725)(192.8,0.702)(194,0.715)(196.4,0.710)(198.8,0.713)(201.2,0.715)(203.6,0.715)(206,0.713)(208.4,0.713)(210.8,0.719)(213.2,0.715)(215.6,0.713)(218,0.717)(220.4,0.708)(222.8,0.716)(225.2,0.722)(227.1,0.726)(229.5,0.722)(231.2,0.723)(233.6,0.720)(236,0.719)(237.7,0.717)(239.6,0.713)(241.5,0.710)(243.2,0.719)(245.6,0.724)(248,0.723)(250.4,0.720)(252.8,0.726)(255.2,0.730)(257.6,0.733)(260,0.729)(262.4,0.730)(264.8,0.734)(267.2,0.736)(269.6,0.733)(271.3,0.737)(272.7,0.740)(274.4,0.733)(276.8,0.730)(279.2,0.724)(281.6,0.720)(284,0.716)(285.7,0.713)(287.2,0.698)(288.9,0.716)(291.2,0.730)(293,0.720)(295,0.715)(297.3,0.699)(299.2,0.713)(301.2,0.720)(304.8,0.722)(307.2,0.730)(310.8,0.733)(313.7,0.734)(316,0.739)(318.5,0.733)(321.6,0.732)(324,0.719)(325.2,0.705)(327,0.680)(330,0.631)(331.2,0.690)(332,0.730)(333.6,0.731)(336,0.726)(337.7,0.705)(339,0.690)(340.3,0.719)(342,0.724)(344.4,0.723)(346.8,0.724)(349.7,0.722)(352,0.724)(354,0.719)(356.4,0.722)(359.3,0.727)(361.7,0.733)(364,0.722)(366,0.729)(368.4,0.730)(370.8,0.727)(373.2,0.727)(375.6,0.726)(378,0.729)(380.4,0.723)(382.8,0.724)(385.2,0.720)(387.6,0.726)(390.4,0.716)(392.4,0.723)(394.8,0.724)(397.2,0.722)(399.6,0.719)(402,0.715)(404.4,0.723)(406.8,0.727)(409,0.728)(410.8,0.713)(412,0.683)(413.2,0.710)(415.2,0.722)(417.6,0.733)(420,0.736)(422.4,0.731)(424.8,0.726)(427.2,0.724)(429.6,0.722)(431.2,0.719)(433.2,0.729)(435.6,0.730)(438,0.733)(440.4,0.724)(442.8,0.730)(445.2,0.733)(447.6,0.734)(450,0.731)(452.4,0.733)(454.8,0.736)(457.2,0.737)(459.5,0.739)(461.5,0.733)(463.6,0.729)(466,0.727)(467.9,0.716)(469.6,0.726)(471.5,0.729)(473.9,0.730)(476.3,0.734)(478.7,0.729)(481.1,0.723)(482.8,0.719)(484,0.707)(485.9,0.726)(488.3,0.730)(490.7,0.733)(493.1,0.733)(495.5,0.736)(498,0.738)(500.3,0.734)(502.7,0.736)(505.1,0.733)(507.5,0.734)(509.9,0.733)(512.3,0.736)(514.7,0.738)(517.1,0.738)(519,0.742)(520.7,0.738)(522.4,0.722)(523.6,0.705)(524.5,0.680)(526.7,0.730)(528.4,0.733)(530.3,0.742)(532.7,0.745)(535.1,0.744)(537.5,0.741)(539.9,0.741)(542.3,0.737)(544.7,0.740)(547.1,0.738)(549.5,0.740)(551.9,0.741)(554.3,0.744)(556.7,0.745)(559.1,0.744)(561.5,0.742)(563.9,0.741)(566.3,0.744)(568.7,0.736)(571,0.731)(573.5,0.727)(575.4,0.719)(577.1,0.729)(579.5,0.736)(581.9,0.740)(584.3,0.744)(586.7,0.742)(589.1,0.744)(591.5,0.745)(593.9,0.742)(596.3,0.733)(598.2,0.726)(600.6,0.723)(602.5,0.720)(604.7,0.729)(607.1,0.734)(609.5,0.738)(611.9,0.744)(614.3,0.745)(616.7,0.748)(619.2,0.742)(621.6,0.740)(624,0.747)(626.4,0.744)(628.7,0.742)(631.1,0.744)(633.5,0.745)(636,0.740)(638.4,0.745)(640.8,0.742)(643.2,0.751)(645.5,0.748)(648,0.747)(650.4,0.744)(652.8,0.741)(655.1,0.738)
(657.5,0.741)(660.4,0.743)(664,0.745)(667,0.740)(670,0.742)(672.4,0.745)(674.8,0.747)(677.2,0.745)(679.6,0.742)(682,0.738)(684.4,0.737)(685.6,0.729)(686.8,0.720)(688,0.712)(689.2,0.699)(690.4,0.680)(692,0.719)(693.3,0.736)(694.7,0.745)(696.4,0.747)(698.8,0.745)(700.7,0.741)(701.9,0.719)(702.9,0.702)(704,0.733)(705.5,0.742)(706.7,0.726)(708,0.722)(709.6,0.733)(711.5,0.741)(713.7,0.747)(715.6,0.731)(717.3,0.722)(719.2,0.719)(720.9,0.713)(722.8,0.716)(724.5,0.713)(726.4,0.713)(728.1,0.702)(729.3,0.697)(730.7,0.730)(732.4,0.733)(734.3,0.736)(736.5,0.729)(738.4,0.742)(740.3,0.744)(742.5,0.740)(744.4,0.730)(745.6,0.716)(746.8,0.724)(748.7,0.736)(750.9,0.734)(752.8,0.737)(755.2,0.740)(757.6,0.733)(759.5,0.745)(762,0.746)(764.3,0.745)(766.7,0.743)(769.1,0.744)(771.5,0.742)(773.9,0.743)(776.3,0.744)(778.8,0.741)(780.4,0.734)(782.1,0.741)(784,0.740)(786.4,0.742)(788.8,0.741)(790.5,0.731)(792.4,0.741)(794.8,0.747)(797.2,0.748)(799.6,0.740)(802,0.747)(804.4,0.745)(806.8,0.747)(809.2,0.740)(810.9,0.733)(812.8,0.737)(815.2,0.736)(817.2,0.740)(819.6,0.747)(822,0.749)(824.4,0.745)(826.8,0.747)(829.2,0.742)(831.6,0.744)(834,0.741)(836.4,0.737)(838.8,0.733)(841.2,0.731)(843.6,0.740)(846,0.740)(847.9,0.734)(849.6,0.726)(850.8,0.720)(852.5,0.729)(854.1,0.731)(856.1,0.738)(858.5,0.736)(860.9,0.737)(863.3,0.736)(865.7,0.737)(868.1,0.741)(870.5,0.734)(872.9,0.738)(875.3,0.740)(877.7,0.741)(880.1,0.737)(882.5,0.736)(884.9,0.733)(887.3,0.738)(889.7,0.737)(892.1,0.740)(894.5,0.737)(896.9,0.740)(898.8,0.744)(900.5,0.754)(901.7,0.766)(903.4,0.766)(905.3,0.768)(907,0.765)(908.9,0.759)(910.8,0.755)(912.5,0.756)(914.9,0.759)(917.3,0.763)(919.7,0.768)(922,0.769)(924.5,0.765)(926.9,0.766)(929.3,0.766)(931.7,0.763)(934.1,0.761)(936.5,0.756)(938.2,0.751)(940.1,0.754)(942.5,0.759)(944.9,0.763)(947.3,0.758)(949.2,0.752)(950.9,0.741)(952.6,0.749)(955,0.752)(957.4,0.755)(959.8,0.756)(962.2,0.756)(964.6,0.757)(967,0.758)(969.4,0.761)(971.8,0.756)(974.2,0.759)(976.6,0.761)(979,0.758)(981.4,0.756)(983.8,0.759)(986.2,0.754)(988.6,0.759)(991,0.758)(993.4,0.759)(995.8,0.762)(998.2,0.761)(1000,0.758)
};
\addlegendentry{Validation accuracy: HC + UCN features}
\end{axis}
\pgfresetboundingbox
\path (-24.75pt,-22pt) rectangle (480.5pt,379.3pt);
\end{tikzpicture}
\end{document}
